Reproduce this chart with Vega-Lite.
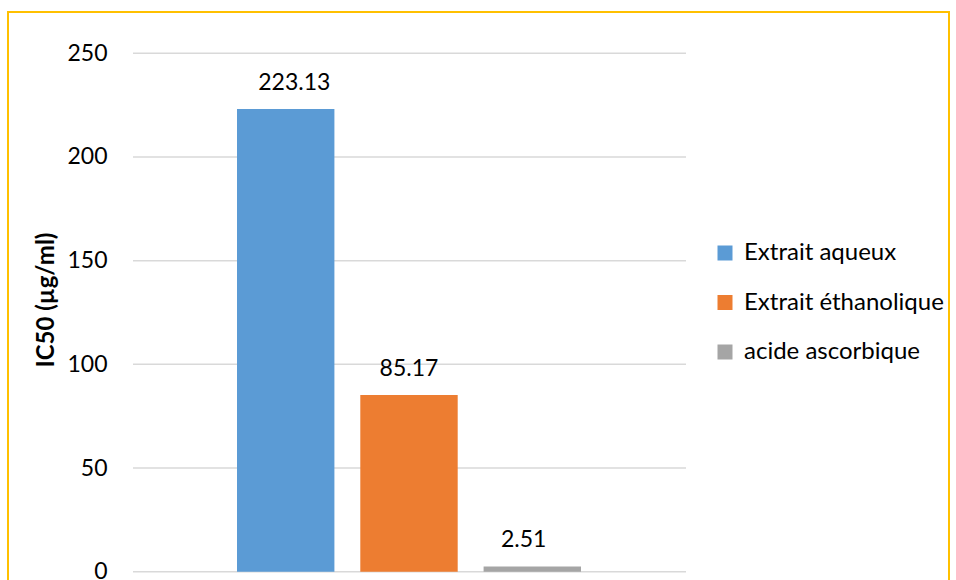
{
  "$schema": "https://vega.github.io/schema/vega-lite/v6.json",
  "autosize": "none",
  "width": 941,
  "height": 575,
  "padding": {"left": 8, "top": 12, "right": 7, "bottom": 0},
  "background": "white",
  "config": {
    "view": {"stroke": "#FFC000", "strokeWidth": 2},
    "font": "Lato",
    "text": {"font": "Lato"}
  },
  "data": {
    "values": [
      {"serie": "Extrait aqueux", "IC50": 223.13},
      {"serie": "Extrait éthanolique", "IC50": 85.17},
      {"serie": "acide ascorbique", "IC50": 2.51}
    ]
  },
  "layer": [
    {
      "data": {"values": [{"g": 0}, {"g": 50}, {"g": 100}, {"g": 150}, {"g": 200}, {"g": 250}]},
      "mark": {"type": "rule", "color": "#D9D9D9", "strokeWidth": 1.5},
      "encoding": {
        "y": {"field": "g", "type": "quantitative", "scale": {"domain": [-7.38, 269.92], "nice": false, "zero": false}, "axis": null},
        "x": {"datum": 0, "type": "quantitative", "scale": {"domain": [0, 1], "range": [125, 678]}, "axis": null},
        "x2": {"datum": 1}
      }
    },
    {
      "mark": {"type": "bar"},
      "encoding": {
        "x": {"field": "serie", "type": "nominal", "sort": null, "scale": {"range": [229, 573], "paddingInner": 0.21, "paddingOuter": 0}, "axis": null},
        "y": {"field": "IC50", "type": "quantitative", "scale": {"domain": [-7.38, 269.92], "nice": false, "zero": false},
          "axis": {"title": "IC50 (µg/ml)", "values": [0, 50, 100, 150, 200, 250], "offset": -125, "domain": false, "ticks": false, "grid": false,
            "labelFontSize": 23, "labelColor": "#000000", "labelPadding": 26, "labelFont": "Lato",
            "titleFontSize": 24, "titleFont": "Lato", "titleFontWeight": "bold", "titleColor": "#000000", "titlePadding": 8}},
        "y2": {"datum": 0},
        "color": {"field": "serie", "type": "nominal", "sort": null,
          "scale": {"domain": ["Extrait aqueux", "Extrait éthanolique", "acide ascorbique"], "range": ["#5B9BD5", "#ED7D31", "#A5A5A5"]},
          "legend": {"title": null, "orient": "none", "legendX": 705, "legendY": 229, "symbolType": "square", "symbolSize": 225,
            "symbolStrokeWidth": 0, "labelFontSize": 24, "labelFont": "Lato", "labelColor": "#000000", "labelLimit": 400, "rowPadding": 25.5, "labelOffset": 7}}
      }
    },
    {
      "mark": {"type": "text", "baseline": "alphabetic", "dy": -19, "fontSize": 23, "color": "#000000", "font": "Lato"},
      "encoding": {
        "x": {"field": "serie", "type": "nominal", "sort": null, "scale": {"range": [229, 573], "paddingInner": 0.21, "paddingOuter": 0}, "axis": null},
        "y": {"field": "IC50", "type": "quantitative", "axis": null},
        "text": {"field": "IC50", "type": "quantitative", "format": ".2f"}
      }
    }
  ],
  "resolve": {"scale": {"x": "independent"}, "axis": {"y": "independent"}}
}
